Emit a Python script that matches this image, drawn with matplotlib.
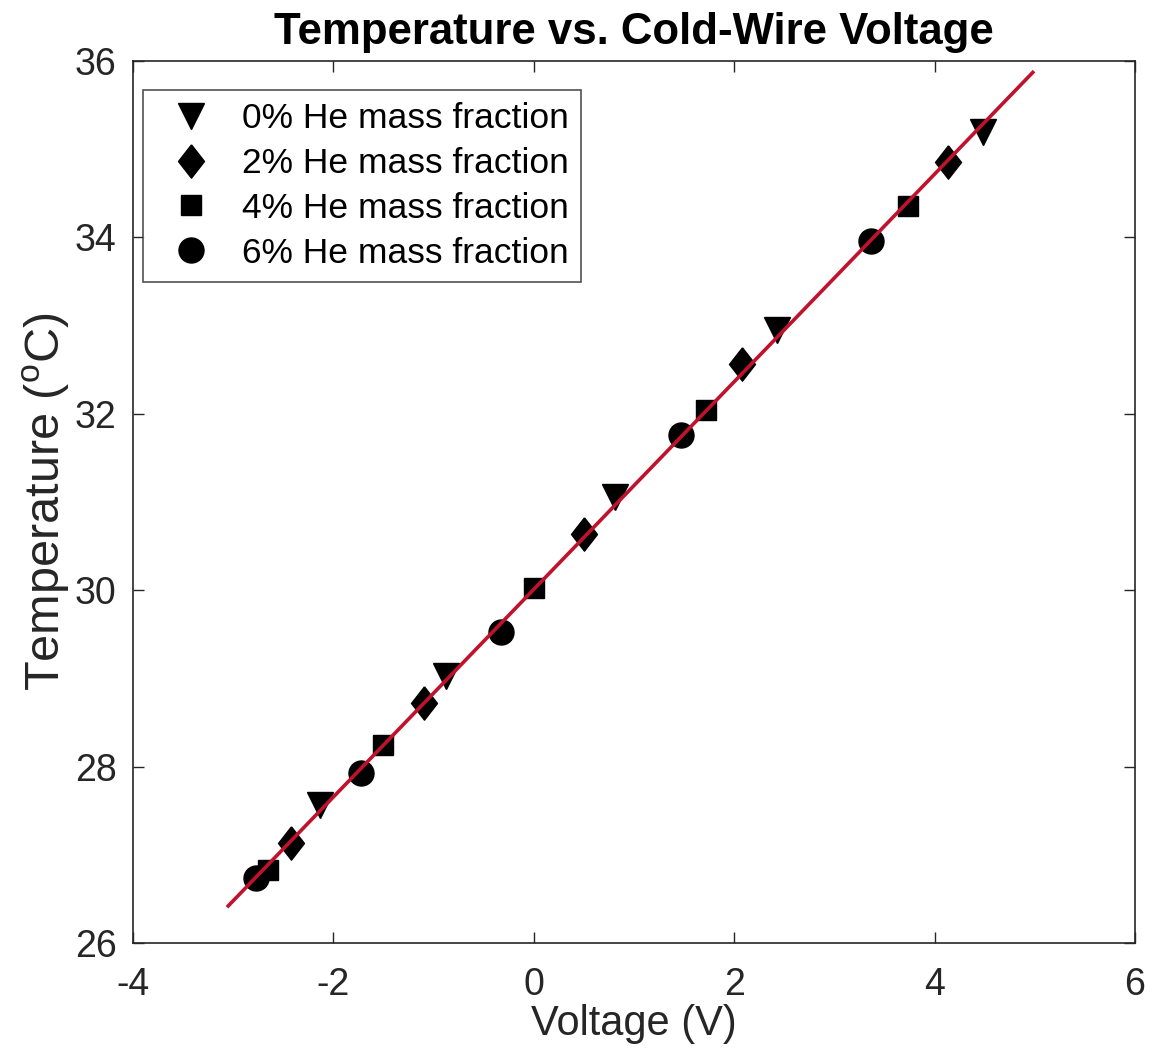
import matplotlib
matplotlib.use("Agg")
import matplotlib.pyplot as plt

# Cold-wire calibration points for each helium mass fraction
v_he0 = [-2.13, -0.88, 0.81, 2.43, 4.48]
t_he0 = [27.56, 29.03, 31.06, 32.95, 35.20]

v_he2 = [-2.42, -1.10, 0.50, 2.08, 4.13]
t_he2 = [27.13, 28.72, 30.64, 32.56, 34.85]

v_he4 = [-2.65, -1.51, 0.00, 1.72, 3.73]
t_he4 = [26.83, 28.25, 30.03, 32.04, 34.35]

v_he6 = [-2.77, -1.72, -0.33, 1.47, 3.37]
t_he6 = [26.74, 27.93, 29.53, 31.76, 33.96]

# Linear fit end points
fit_v = [-3.05, 4.98]
fit_t = [26.42, 35.87]

labels = ['0% He mass fraction', '2% He mass fraction',
          '4% He mass fraction', '6% He mass fraction']

x_ticks = [-4, -2, 0, 2, 4, 6]
y_ticks = [26, 28, 30, 32, 34, 36]

# MATLAB-style diamond, a bit taller than wide
diamond = [(0, 1), (0.78, 0), (0, -1), (-0.78, 0), (0, 1)]

def main():
    plt.rcParams['font.family'] = ['Liberation Sans', 'DejaVu Sans']
    plt.rcParams['mathtext.fontset'] = 'custom'
    plt.rcParams['mathtext.rm'] = 'Liberation Sans'
    plt.rcParams['axes.unicode_minus'] = False

    fig = plt.figure(figsize=(11.54, 10.51), dpi=100)
    ax = fig.add_axes([0.1153, 0.1028, 0.8682, 0.8392])

    ax.plot(fit_v, fit_t, color='#c0122c', linewidth=2.6, zorder=3)

    ax.plot(v_he0, t_he0, 'v', color='black', markersize=19, linestyle='none', label=labels[0], zorder=2)
    ax.plot(v_he2, t_he2, marker=diamond, color='black', markersize=24, linestyle='none', label=labels[1], zorder=2)
    ax.plot(v_he4, t_he4, 's', color='black', markersize=14, linestyle='none', label=labels[2], zorder=2)
    ax.plot(v_he6, t_he6, 'o', color='black', markersize=18, linestyle='none', label=labels[3], zorder=2)

    ax.set_xlim(-4, 6)
    ax.set_ylim(26, 36)
    ax.set_xticks(x_ticks)
    ax.set_yticks(y_ticks)
    ax.tick_params(direction='in', top=True, right=True, length=8, width=1,
                   labelsize=27, colors='#262626')
    ax.tick_params(axis='x', pad=17)
    ax.tick_params(axis='y', pad=12)
    for s in ax.spines.values():
        s.set_color('#262626')
        s.set_linewidth(1.2)

    ax.set_xlabel('Voltage (V)', fontsize=30, color='#262626', labelpad=1)
    ax.set_ylabel(r'Temperature ($^{\rm o}$C)', fontsize=35, color='#262626', labelpad=2)
    ax.set_title('Temperature vs. Cold-Wire Voltage', fontsize=31.5, fontweight='bold', pad=12)

    leg = ax.legend(loc='upper left', bbox_to_anchor=(0.01, 0.967), borderaxespad=0,
                    fontsize=25.5, frameon=True, fancybox=False, edgecolor='#262626',
                    handletextpad=0.45, labelspacing=0.33, borderpad=0.35,
                    handlelength=2.0)
    leg.get_frame().set_linewidth(1.2)

    fig.savefig('out.png', dpi=100, facecolor='white')

if __name__ == '__main__':
    main()
